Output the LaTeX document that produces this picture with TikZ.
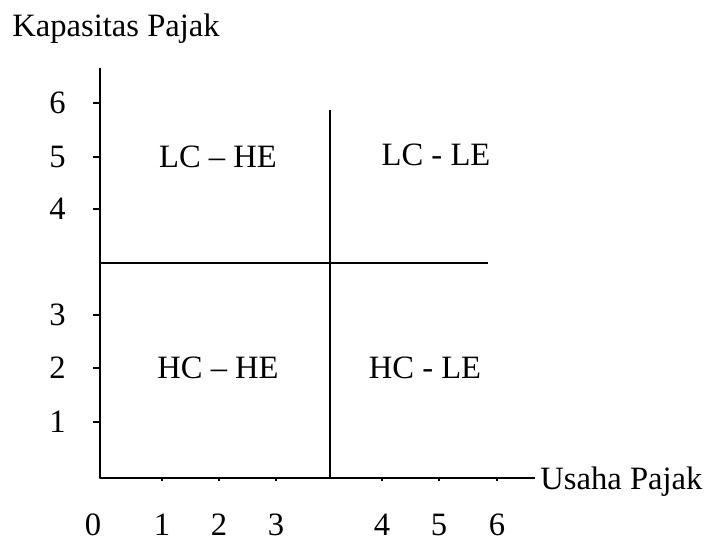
\documentclass[tikz,border=0pt]{standalone}
\usepackage{fontspec}
\setmainfont{Liberation Serif}
\usepackage{tikz}
\usetikzlibrary{positioning}
\tikzset{
  axis/.style={draw=black, line width=1.1pt},
  divline/.style={draw=black, line width=0.9pt},
  tickln/.style={draw=black, line width=0.8pt},
  quad/.style={inner sep=0pt, anchor=center},
  numlbl/.style={inner sep=0pt},
  ttl/.style={inner sep=0pt},
  every picture/.append style={font=\fontsize{16.3}{19}\selectfont, line join=round}
}
\begin{document}
\begin{tikzpicture}[x=0.5pt, y=-0.5pt]
  \useasboundingbox (0,0) rectangle (711,539);
  % axes
  \coordinate (orig) at (100,478);
  \coordinate (ytop) at (100,68);
  \coordinate (xend) at (535,478);
  \node[ttl, anchor=base west] (ylab) at (12,37) {Kapasitas Pajak};
  \node[ttl, anchor=base west] (xlab) at (540,489) {Usaha Pajak};
  \draw[axis] (ytop) -- (orig) -- (xend);

  % quadrant dividers
  \coordinate (hl) at (100,263);
  \coordinate (hr) at (488,263);
  \coordinate (vt) at (330,110);
  \coordinate (vb) at (330,478);
  \draw[divline] (hl) -- (hr);
  \draw[divline] (vt) -- (vb);

  % y ticks
  \foreach \v/\yy in {1/422, 2/368, 3/315, 4/209, 5/157, 6/103} {
    \coordinate (yt\v) at (100,\yy);
    \draw[tickln] (yt\v) -- ++(-7,0);
    \node[numlbl, anchor=east] (ynum\v) at (66,\yy) {\v};
  }

  % x ticks
  \node[numlbl] (xnum0) at (93,525) {0};
  \foreach \v/\xx in {1/162, 2/219, 3/276, 4/382, 5/439, 6/497} {
    \coordinate (xt\v) at (\xx,478);
    \draw[tickln] (xt\v) -- ++(0,3);
    \node[numlbl] (xnum\v) at (\xx,525) {\v};
  }

  % quadrants
  \node[quad] (lche) at (218,157) {LC -- HE};
  \node[quad] (lcle) at (436,155) {LC - LE};
  \node[quad] (hche) at (218,368) {HC -- HE};
  \node[quad] (hcle) at (425,368) {HC - LE};
\end{tikzpicture}
\end{document}
